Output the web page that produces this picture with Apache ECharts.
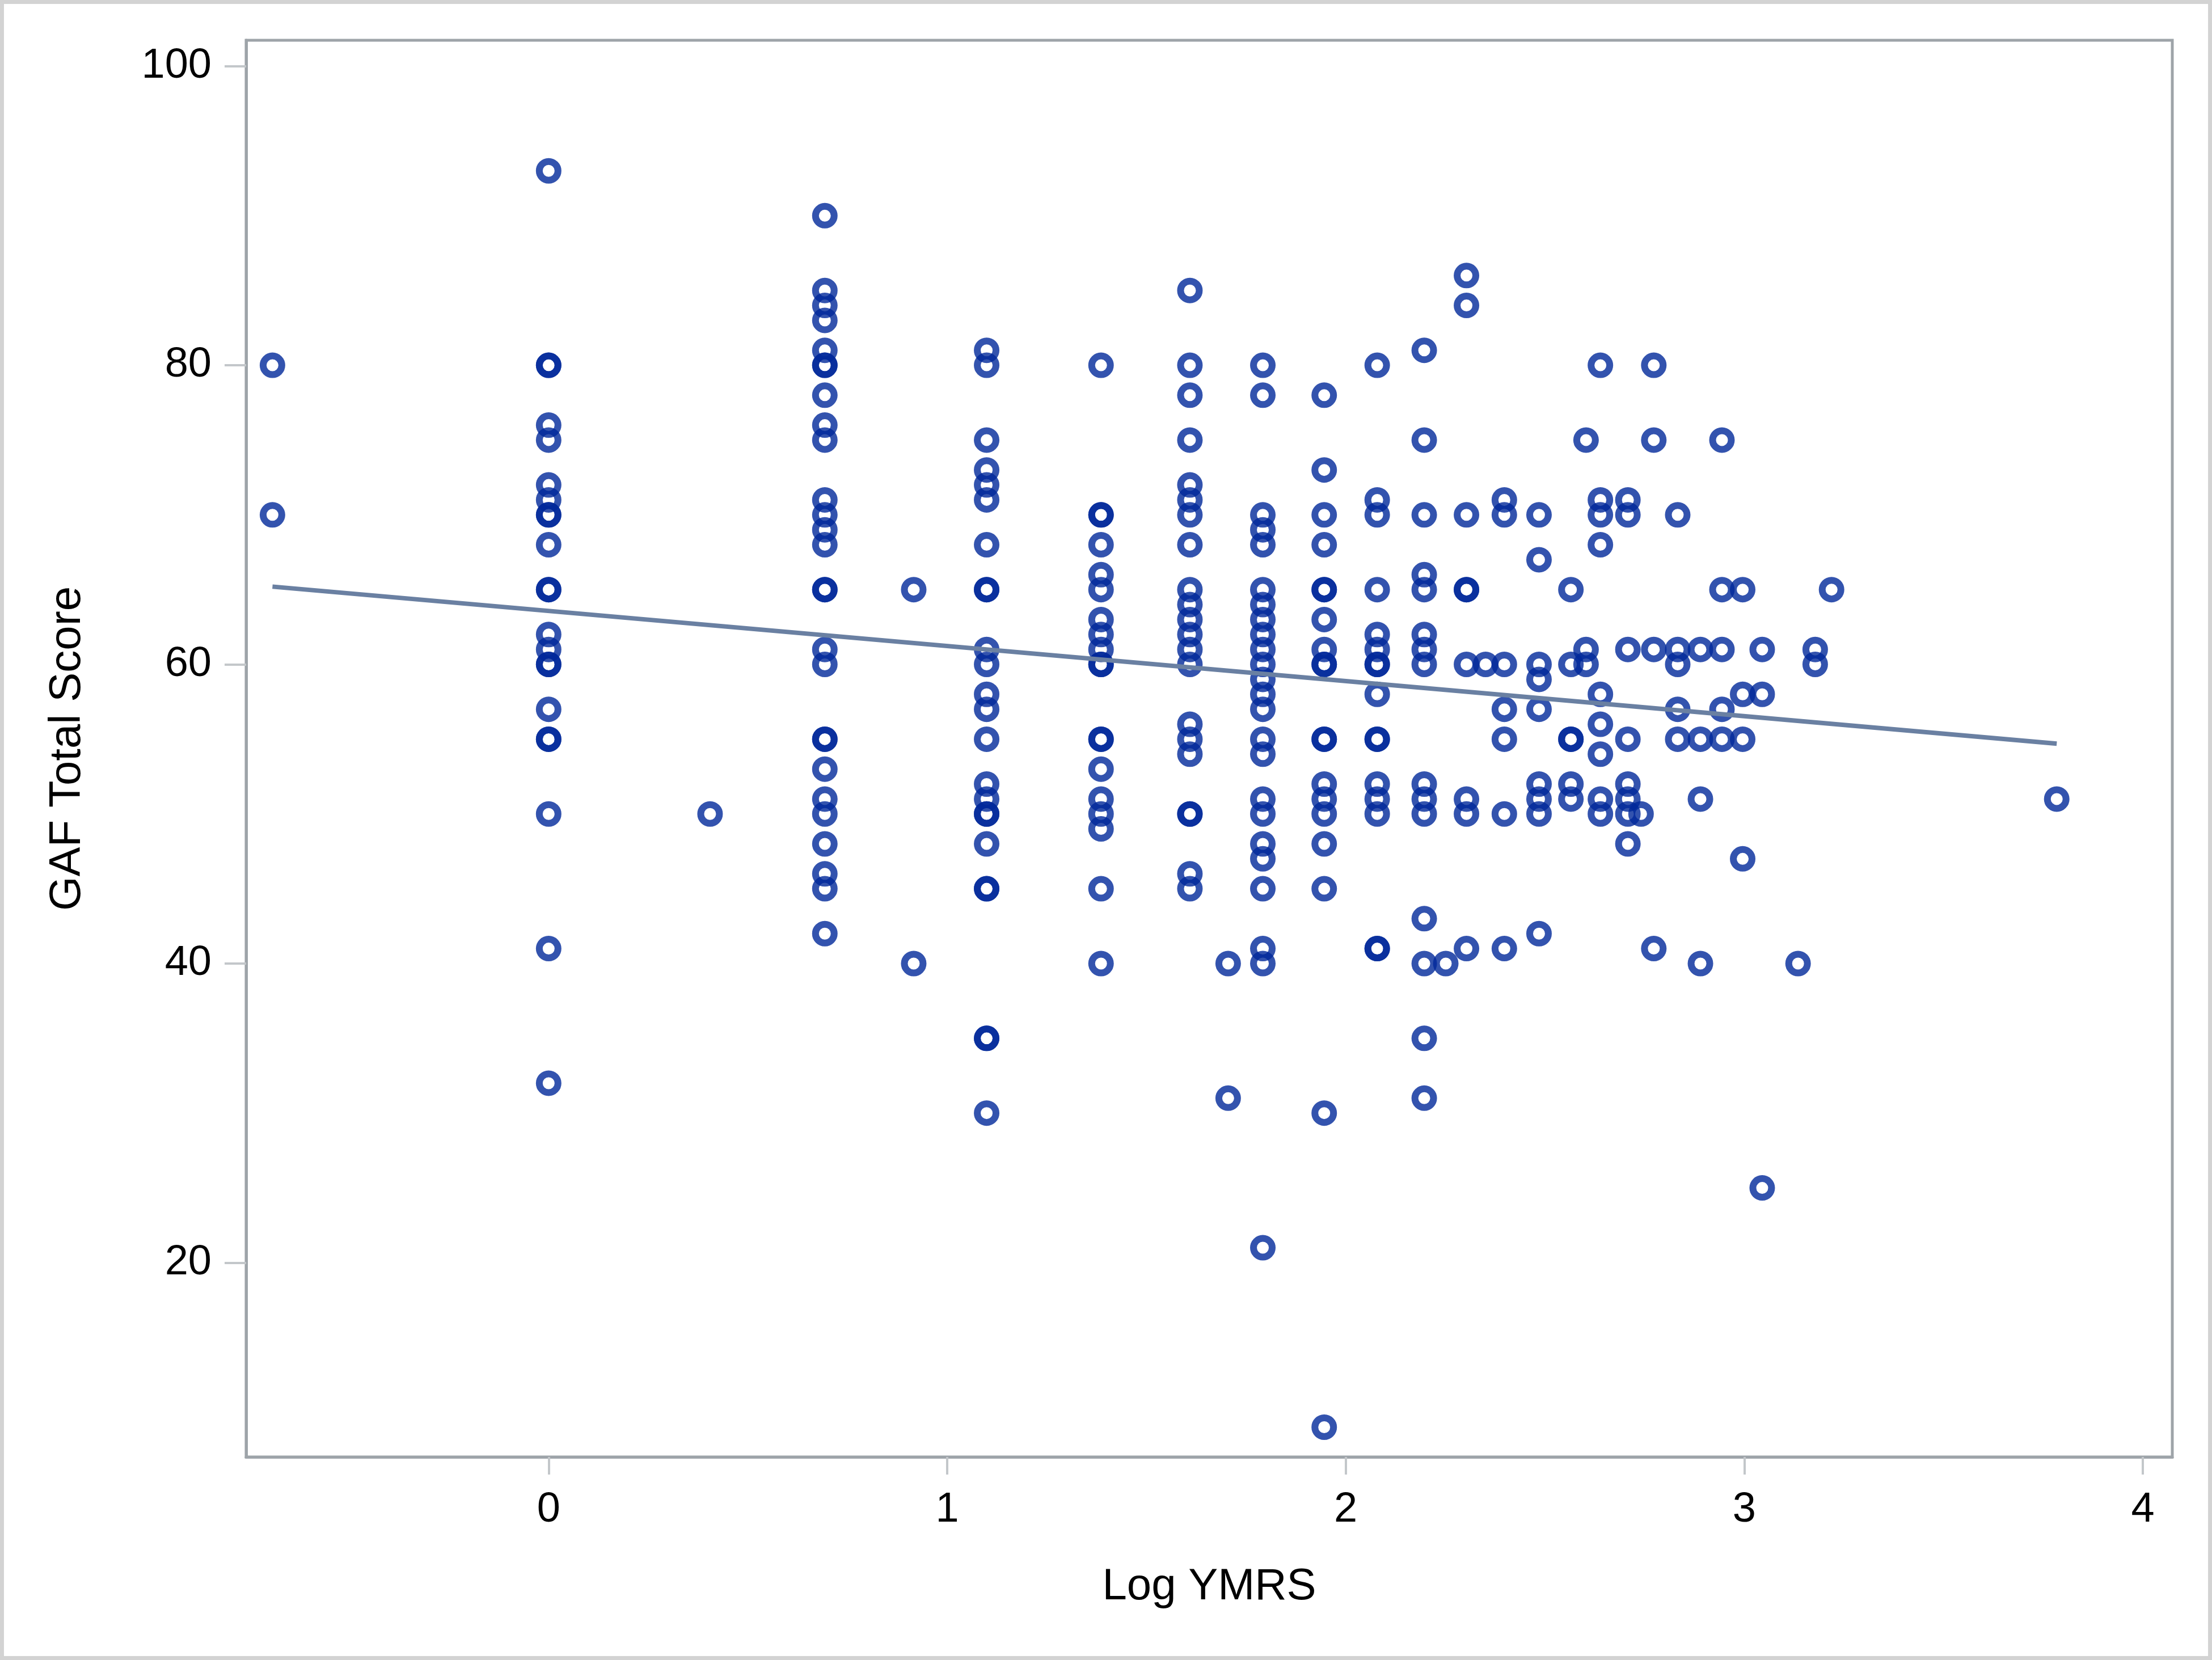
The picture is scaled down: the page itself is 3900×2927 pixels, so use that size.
<!DOCTYPE html>
<html>
<head>
<meta charset="utf-8">
<script src="https://cdn.jsdelivr.net/npm/echarts@6/dist/echarts.min.js"></script>
<style>
  html, body { margin: 0; padding: 0; background: #fff; }
  #chart { width: 3900px; height: 2927px; }
</style>
</head>
<body>
<div id="chart"></div>
<script>
// Log YMRS levels (x) and the GAF scores read at each level (y)
const logYmrsLevels = [
  -0.693, 0, 0.405, 0.693, 0.916, 1.099, 1.386, 1.609, 1.705, 1.792,
  1.946, 2.079, 2.197, 2.251, 2.303, 2.351, 2.398, 2.485, 2.565, 2.603,
  2.639, 2.708, 2.741, 2.773, 2.833, 2.890, 2.944, 2.996, 3.045, 3.135,
  3.178, 3.219, 3.784,
];

const gafByLevel = [
  [80, 70],
  [93, 80, 80, 76, 75, 72, 71, 70, 70, 68, 65, 65, 62, 61, 60, 60, 57, 55, 55, 50, 41, 32],
  [50],
  [90, 85, 84, 83, 81, 80, 80, 78, 76, 75, 71, 70, 69, 68, 65, 65, 61, 60, 55, 55, 53, 51, 50, 48, 46, 45, 42],
  [65, 40],
  [81, 80, 75, 73, 72, 71, 68, 65, 65, 61, 60, 58, 57, 55, 52, 51, 50, 50, 48, 45, 45, 35, 35, 30],
  [80, 70, 70, 68, 66, 65, 63, 62, 61, 60, 60, 55, 55, 53, 51, 50, 49, 45, 40],
  [85, 80, 78, 75, 72, 71, 70, 68, 65, 64, 63, 62, 61, 60, 56, 55, 54, 50, 50, 46, 45],
  [40, 31],
  [80, 78, 70, 69, 68, 65, 64, 63, 62, 61, 60, 59, 58, 57, 55, 54, 51, 50, 48, 47, 45, 41, 40, 21],
  [78, 73, 70, 68, 65, 65, 63, 61, 60, 60, 55, 55, 52, 51, 50, 48, 45, 30, 9],
  [80, 71, 70, 65, 62, 61, 60, 60, 58, 55, 55, 52, 51, 50, 41, 41],
  [81, 75, 70, 66, 65, 62, 61, 60, 52, 51, 50, 43, 40, 35, 31],
  [40],
  [86, 84, 70, 65, 65, 60, 51, 50, 41],
  [60],
  [71, 70, 60, 57, 55, 50, 41],
  [70, 67, 60, 59, 57, 52, 51, 50, 42],
  [65, 60, 55, 55, 52, 51],
  [75, 61, 60],
  [80, 71, 70, 68, 58, 56, 54, 51, 50],
  [71, 70, 61, 55, 52, 51, 50, 48],
  [50],
  [80, 75, 61, 41],
  [70, 61, 60, 57, 55],
  [61, 55, 51, 40],
  [75, 65, 61, 57, 55],
  [65, 58, 55, 47],
  [61, 58, 25],
  [40],
  [61, 60],
  [65],
  [51],
];

// fitted regression line, end points
const fitX = [-0.693, 3.784];
const fitY = [65.2, 54.7];

const xTicks = [0, 1, 2, 3, 4];
const yTicks = [20, 40, 60, 80, 100];

// build the scatter pairs
const points = [];
logYmrsLevels.forEach((x, i) => {
  gafByLevel[i].forEach((y) => points.push([x, y]));
});
const fitLine = fitX.map((x, i) => [x, fitY[i]]);

const fontFamily = '"Liberation Sans", Arial, sans-serif';
const frameColor = "#9ea4a9";
const tickColor = "#c3c7ca";

const chart = echarts.init(document.getElementById("chart"), null, {
  renderer: "canvas",
});

const option = {
  animation: false,
  backgroundColor: "#ffffff",
  textStyle: { fontFamily: fontFamily },
  graphic: [
    {
      type: "rect",
      silent: true,
      shape: { x: 3.5, y: 3.5, width: 3893, height: 2920 },
      style: { fill: "none", stroke: "#d3d3d3", lineWidth: 7 },
    },
  ],
  grid: {
    left: 434,
    right: 70,
    top: 71,
    bottom: 358,
    show: true,
    borderColor: frameColor,
    borderWidth: 5,
    backgroundColor: "#ffffff",
  },
  xAxis: {
    type: "value",
    min: -0.759,
    max: 4.074,
    name: "Log YMRS",
    nameLocation: "middle",
    nameGap: 190,
    nameTextStyle: { fontSize: 78, color: "#000", fontFamily: fontFamily },
    axisLine: {
      show: true,
      onZero: false,
      lineStyle: { color: frameColor, width: 5 },
    },
    axisTick: {
      show: true,
      inside: false,
      length: 31,
      customValues: xTicks,
      lineStyle: { color: tickColor, width: 4 },
    },
    axisLabel: {
      customValues: xTicks,
      fontSize: 74,
      color: "#000",
      margin: 57,
      fontFamily: fontFamily,
    },
    splitLine: { show: false },
  },
  yAxis: {
    type: "value",
    min: 7.01,
    max: 101.73,
    name: "GAF Total Score",
    nameLocation: "middle",
    nameGap: 276,
    nameTextStyle: { fontSize: 78, color: "#000", fontFamily: fontFamily },
    axisLine: {
      show: true,
      onZero: false,
      lineStyle: { color: frameColor, width: 5 },
    },
    axisTick: {
      show: true,
      inside: false,
      length: 38,
      customValues: yTicks,
      lineStyle: { color: tickColor, width: 4 },
    },
    axisLabel: {
      customValues: yTicks,
      fontSize: 74,
      color: "#000",
      margin: 61,
      fontFamily: fontFamily,
    },
    splitLine: { show: false },
  },
  series: [
    {
      name: "GAF",
      type: "scatter",
      symbol: "circle",
      symbolSize: 33,
      z: 2,
      itemStyle: {
        color: "rgba(0,0,0,0)",
        borderColor: "#00289a",
        borderWidth: 12,
      },
      data: points,
    },
    {
      name: "Fit",
      type: "line",
      symbol: "none",
      z: 3,
      lineStyle: { color: "#6a80a2", width: 8 },
      data: fitLine,
    },
  ],
};

chart.setOption(option);
</script>
</body>
</html>
